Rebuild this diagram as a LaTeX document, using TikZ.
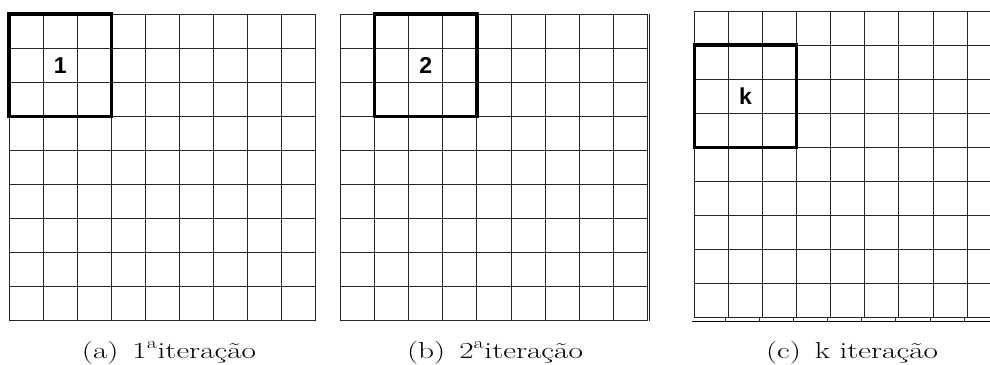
\documentclass[tikz,border=0pt]{standalone}
\usepackage{graphicx}
\usepackage{fontspec}
\newfontfamily\cellfont{Liberation Sans}

\begin{document}
\begin{tikzpicture}[
    x=1pt, y=-1pt,
    gridline/.style={draw=black!85, line width=1pt},
    window/.style={draw=black, line width=3.3pt},
    idx/.style={font=\cellfont\bfseries\fontsize{23}{23}\selectfont, inner sep=0pt},
    capt/.style={font=\fontsize{23}{23}\selectfont, anchor=base, inner sep=0pt}
]
\useasboundingbox (0,0) rectangle (990,364);
\clip (0,0) rectangle (990,364);
\def\cs{34.1}

% Grid (a)
\foreach \i in {0,...,9} {
  \draw[gridline] (9+\i*\cs, 14) -- (9+\i*\cs, 14+9*\cs);
  \draw[gridline] (9, 14+\i*\cs) -- (9+9*\cs, 14+\i*\cs);
}
\draw[window] (9, 14) rectangle (9+3*\cs, 14+3*\cs);
\node[idx] (n1) at (9+1.5*\cs, 14+1.5*\cs) {1};

% Grid (b)
\foreach \i in {0,...,9} {
  \draw[gridline] (340.5+\i*\cs, 14) -- (340.5+\i*\cs, 14+9*\cs);
  \draw[gridline] (340.5, 14+\i*\cs) -- (340.5+9*\cs, 14+\i*\cs);
}
\draw[gridline] (340.5+9*\cs+2.4, 14) -- (340.5+9*\cs+2.4, 14+9*\cs);
\draw[window] (340.5+\cs, 14) rectangle (340.5+4*\cs, 14+3*\cs);
\node[idx] (n2) at (340.5+2.5*\cs, 14+1.5*\cs) {2};

% Grid (c)
\foreach \i in {0,...,9} {
  \draw[gridline] (694.3+\i*\cs, 11) -- (694.3+\i*\cs, 11+9*\cs);
  \draw[gridline] (694.3, 11+\i*\cs) -- (694.3+9*\cs, 11+\i*\cs);
}
\draw[gridline, draw=black] (691.5, 11+9*\cs+3.5) -- (990, 11+9*\cs+3.5);
\foreach \i in {1,...,8}
  \draw[gridline] (694.3+\i*\cs-3, 11+9*\cs) -- (694.3+\i*\cs-3, 11+9*\cs+3.5);
\draw[window] (694.3, 11+\cs) rectangle (694.3+3*\cs, 11+4*\cs);
\node[idx] (nk) at (694.3+1.5*\cs, 11+2.5*\cs) {k};

% Captions
\node[capt] (capa) at (169, 358) {\scalebox{1.36}[1]{(a)\hspace{0.45em}1\textsuperscript{a}iteração}};
\node[capt] (capb) at (495, 358) {\scalebox{1.36}[1]{(b)\hspace{0.45em}2\textsuperscript{a}iteração}};
\node[capt] (capc) at (852, 358) {\scalebox{1.36}[1]{(c)\hspace{0.45em}k iteração}};
\end{tikzpicture}
\end{document}
